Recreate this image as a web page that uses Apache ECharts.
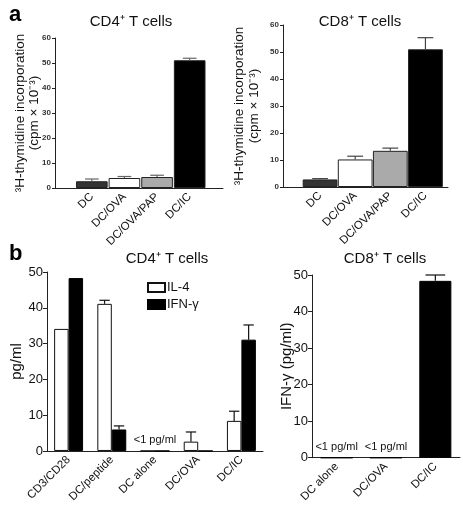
<!DOCTYPE html>
<html>
<head>
<meta charset="utf-8">
<script src="https://cdn.jsdelivr.net/npm/echarts@6/dist/echarts.min.js"></script>
<style>html,body{margin:0;padding:0;background:#fff}#c{width:463px;height:505px}</style>
</head>
<body>
<div id="c"></div>
<script>
// ---- data ----
const aCats = ['DC', 'DC/OVA', 'DC/OVA/PAP', 'DC/IC'];
const aCD4 = [2.7, 4.0, 4.4, 51.1];
const aCD4Err = [3.6, 4.6, 5.1, 51.9];
const aCD8 = [2.8, 10.2, 13.4, 51.0];
const aCD8Err = [3.1, 11.4, 14.4, 55.3];

const bCD4Cats = ['CD3/CD28', 'DC/peptide', 'DC alone', 'DC/OVA', 'DC/IC'];
const bIL4 = [34.1, 41.1, 0, 2.6, 8.4];
const bIL4Err = [null, 42.1, null, 5.3, 11.1];
const bIFN = [48.3, 6.0, 0, 0, 31.1];
const bIFNErr = [null, 7.0, null, null, 35.2];
const bCD4Notes = ['DC alone'];

const bCD8Cats = ['DC alone', 'DC/OVA', 'DC/IC'];
const bCD8IFN = [0, 0, 48.4];
const bCD8IFNErr = [null, null, 50.0];
const bCD8Notes = ['DC alone', 'DC/OVA'];

const aTicks = { min: 0, max: 60, interval: 10 };
const bTicks = { min: 0, max: 50, interval: 10 };

// ---- helpers ----
const FONT = '"Liberation Sans", Arial, sans-serif';
const aFill = ['#333333', '#ffffff', '#aaaaaa', '#000000'];

function errSeries(xi, yi, cats, vals, errs, offFrac, capFrac, color) {
  const data = [];
  cats.forEach((c, i) => { if (errs[i] != null) data.push([i, vals[i], errs[i]]); });
  return {
    type: 'custom', xAxisIndex: xi, yAxisIndex: yi, z: 5, silent: true,
    encode: { x: 0, y: 2 },
    data: data,
    renderItem: function (params, api) {
      const x = api.value(0);
      const base = api.coord([x, api.value(1)]);
      const top = api.coord([x, api.value(2)]);
      const bw = api.size([1, 0])[0];
      const cx = base[0] + offFrac * bw;
      const cap = capFrac * bw;
      const st = { stroke: color, lineWidth: 1.2 };
      return {
        type: 'group', children: [
          { type: 'line', shape: { x1: cx, y1: base[1], x2: cx, y2: top[1] }, style: st },
          { type: 'line', shape: { x1: cx - cap / 2, y1: top[1], x2: cx + cap / 2, y2: top[1] }, style: st }
        ]
      };
    }
  };
}

function noteSeries(xi, yi, cats, notes) {
  return {
    type: 'custom', xAxisIndex: xi, yAxisIndex: yi, z: 6, silent: true,
    data: notes.map(n => [cats.indexOf(n), 0]),
    renderItem: function (params, api) {
      const p = api.coord([api.value(0), api.value(1)]);
      return {
        type: 'text',
        style: { text: '<1 pg/ml', x: p[0], y: p[1] - 11, textAlign: 'center', textVerticalAlign: 'middle',
                 font: '11px ' + FONT, fill: '#111' }
      };
    }
  };
}

const aTickLabel = { fontSize: 8, fontWeight: 'bold', color: '#333', fontFamily: FONT, margin: 4 };
const axisLineBlack = { show: true, lineStyle: { color: '#222', width: 1 } };

const option = {
  animation: false,
  backgroundColor: '#fff',
  grid: [
    { left: 55, top: 38, width: 168, height: 150 },     // 0 a-left frame
    { left: 75.5, top: 38, width: 130.5, height: 150 }, // 1 a-left bars
    { left: 283, top: 25, width: 165, height: 162 },    // 2 a-right frame
    { left: 302.5, top: 25, width: 140.5, height: 162 },// 3 a-right bars
    { left: 47, top: 272, width: 216, height: 187 },    // 4 b-left
    { left: 312, top: 275, width: 148, height: 185 }    // 5 b-right
  ],
  xAxis: [
    { type: 'value', gridIndex: 0, min: 0, max: 1, axisLine: axisLineBlack, axisTick: { show: false }, axisLabel: { show: false }, splitLine: { show: false } },
    { type: 'category', gridIndex: 1, data: aCats, axisLine: { show: false }, axisTick: { show: false },
      axisLabel: { rotate: 45, fontSize: 11.5, color: '#111', fontFamily: FONT, margin: 7, interval: 0 } },
    { type: 'value', gridIndex: 2, min: 0, max: 1, axisLine: axisLineBlack, axisTick: { show: false }, axisLabel: { show: false }, splitLine: { show: false } },
    { type: 'category', gridIndex: 3, data: aCats, axisLine: { show: false }, axisTick: { show: false },
      axisLabel: { rotate: 45, fontSize: 11.5, color: '#111', fontFamily: FONT, margin: 7, interval: 0 } },
    { type: 'category', gridIndex: 4, data: bCD4Cats, axisLine: axisLineBlack, axisTick: { show: false },
      axisLabel: { rotate: 45, fontSize: 11.5, color: '#111', fontFamily: FONT, margin: 7, interval: 0 } },
    { type: 'category', gridIndex: 5, data: bCD8Cats, axisLine: axisLineBlack, axisTick: { show: false },
      axisLabel: { rotate: 45, fontSize: 11.5, color: '#111', fontFamily: FONT, margin: 7, interval: 0 } }
  ],
  yAxis: [
    { type: 'value', gridIndex: 0, min: aTicks.min, max: aTicks.max, interval: aTicks.interval,
      axisLine: axisLineBlack, axisTick: { show: true, length: 3, lineStyle: { color: '#222' } }, axisLabel: aTickLabel, splitLine: { show: false },
      name: '³H-thymidine incorporation\n(cpm × 10⁻³)', nameLocation: 'middle', nameRotate: 90, nameGap: 14, nameMoveOverlap: false,
      nameTextStyle: { fontSize: 13.5, color: '#111', fontFamily: FONT, lineHeight: 14 } },
    { type: 'value', gridIndex: 1, min: aTicks.min, max: aTicks.max, show: false },
    { type: 'value', gridIndex: 2, min: aTicks.min, max: aTicks.max, interval: aTicks.interval,
      axisLine: axisLineBlack, axisTick: { show: true, length: 3, lineStyle: { color: '#222' } }, axisLabel: aTickLabel, splitLine: { show: false },
      name: '³H-thymidine incorporation\n(cpm × 10⁻³)', nameLocation: 'middle', nameRotate: 90, nameGap: 21, nameMoveOverlap: false,
      nameTextStyle: { fontSize: 13.5, color: '#111', fontFamily: FONT, lineHeight: 15 } },
    { type: 'value', gridIndex: 3, min: aTicks.min, max: aTicks.max, show: false },
    { type: 'value', gridIndex: 4, min: bTicks.min, max: bTicks.max, interval: bTicks.interval,
      axisLine: axisLineBlack, axisTick: { show: true, length: 4, lineStyle: { color: '#222' } },
      axisLabel: { fontSize: 13, color: '#111', fontFamily: FONT, margin: 4 }, splitLine: { show: false },
      name: 'pg/ml', nameLocation: 'middle', nameRotate: 90, nameGap: 23, nameMoveOverlap: false,
      nameTextStyle: { fontSize: 15, color: '#111', fontFamily: FONT } },
    { type: 'value', gridIndex: 5, min: bTicks.min, max: bTicks.max, interval: bTicks.interval,
      axisLine: axisLineBlack, axisTick: { show: true, length: 4, lineStyle: { color: '#222' } },
      axisLabel: { fontSize: 13, color: '#111', fontFamily: FONT, margin: 4 }, splitLine: { show: false },
      name: 'IFN-γ (pg/ml)', nameLocation: 'middle', nameRotate: 90, nameGap: 18, nameMoveOverlap: false,
      nameTextStyle: { fontSize: 15, color: '#111', fontFamily: FONT } }
  ],
  legend: {
    left: 142, top: 276, orient: 'vertical', itemWidth: 17, itemHeight: 9, itemGap: 4, icon: 'rect',
    textStyle: { fontSize: 13, color: '#111', fontFamily: FONT, padding: [0, 0, 0, -3] },
    data: ['IL-4', 'IFN-γ']
  },
  graphic: [
    { type: 'text', left: 9, top: 4, style: { text: 'a', font: 'bold 22px ' + FONT, fill: '#000' } },
    { type: 'text', left: 9, top: 243, style: { text: 'b', font: 'bold 22px ' + FONT, fill: '#000' } },
    { type: 'text', x: 131, y: 22, style: { text: 'CD4⁺ T cells', font: '15px ' + FONT, fill: '#111', textAlign: 'center', textVerticalAlign: 'middle' } },
    { type: 'text', x: 360, y: 22, style: { text: 'CD8⁺ T cells', font: '15px ' + FONT, fill: '#111', textAlign: 'center', textVerticalAlign: 'middle' } },
    { type: 'text', x: 167, y: 259, style: { text: 'CD4⁺ T cells', font: '15px ' + FONT, fill: '#111', textAlign: 'center', textVerticalAlign: 'middle' } },
    { type: 'text', x: 385, y: 259, style: { text: 'CD8⁺ T cells', font: '15px ' + FONT, fill: '#111', textAlign: 'center', textVerticalAlign: 'middle' } }
  ],
  series: [
    { type: 'bar', xAxisIndex: 1, yAxisIndex: 1, data: aCD4, barCategoryGap: '3%',
      itemStyle: { color: p => aFill[p.dataIndex], borderColor: '#222', borderWidth: 1 } },
    errSeries(1, 1, aCats, aCD4, aCD4Err, 0, 0.42, '#666'),
    { type: 'bar', xAxisIndex: 3, yAxisIndex: 3, data: aCD8, barCategoryGap: '1%',
      itemStyle: { color: p => aFill[p.dataIndex], borderColor: '#222', borderWidth: 1 } },
    errSeries(3, 3, aCats, aCD8, aCD8Err, 0, 0.45, '#444'),
    { name: 'IL-4', type: 'bar', xAxisIndex: 4, yAxisIndex: 4, data: bIL4, barGap: '0%', barCategoryGap: '33%',
      itemStyle: { color: '#fff', borderColor: '#111', borderWidth: 1 } },
    { name: 'IFN-γ', type: 'bar', xAxisIndex: 4, yAxisIndex: 4, data: bIFN, barGap: '0%', barCategoryGap: '33%',
      itemStyle: { color: '#000', borderColor: '#000', borderWidth: 1 } },
    errSeries(4, 4, bCD4Cats, bIL4, bIL4Err, -0.67 / 4, 0.24, '#111'),
    errSeries(4, 4, bCD4Cats, bIFN, bIFNErr, 0.67 / 4, 0.24, '#111'),
    noteSeries(4, 4, bCD4Cats, bCD4Notes),
    { type: 'bar', xAxisIndex: 5, yAxisIndex: 5, data: bCD8IFN, barCategoryGap: '35%',
      itemStyle: { color: '#000', borderColor: '#000', borderWidth: 1 } },
    errSeries(5, 5, bCD8Cats, bCD8IFN, bCD8IFNErr, 0, 0.4, '#111'),
    noteSeries(5, 5, bCD8Cats, bCD8Notes)
  ]
};

const chart = echarts.init(document.getElementById('c'), null, { renderer: 'canvas' });
chart.setOption(option);
</script>
</body>
</html>
